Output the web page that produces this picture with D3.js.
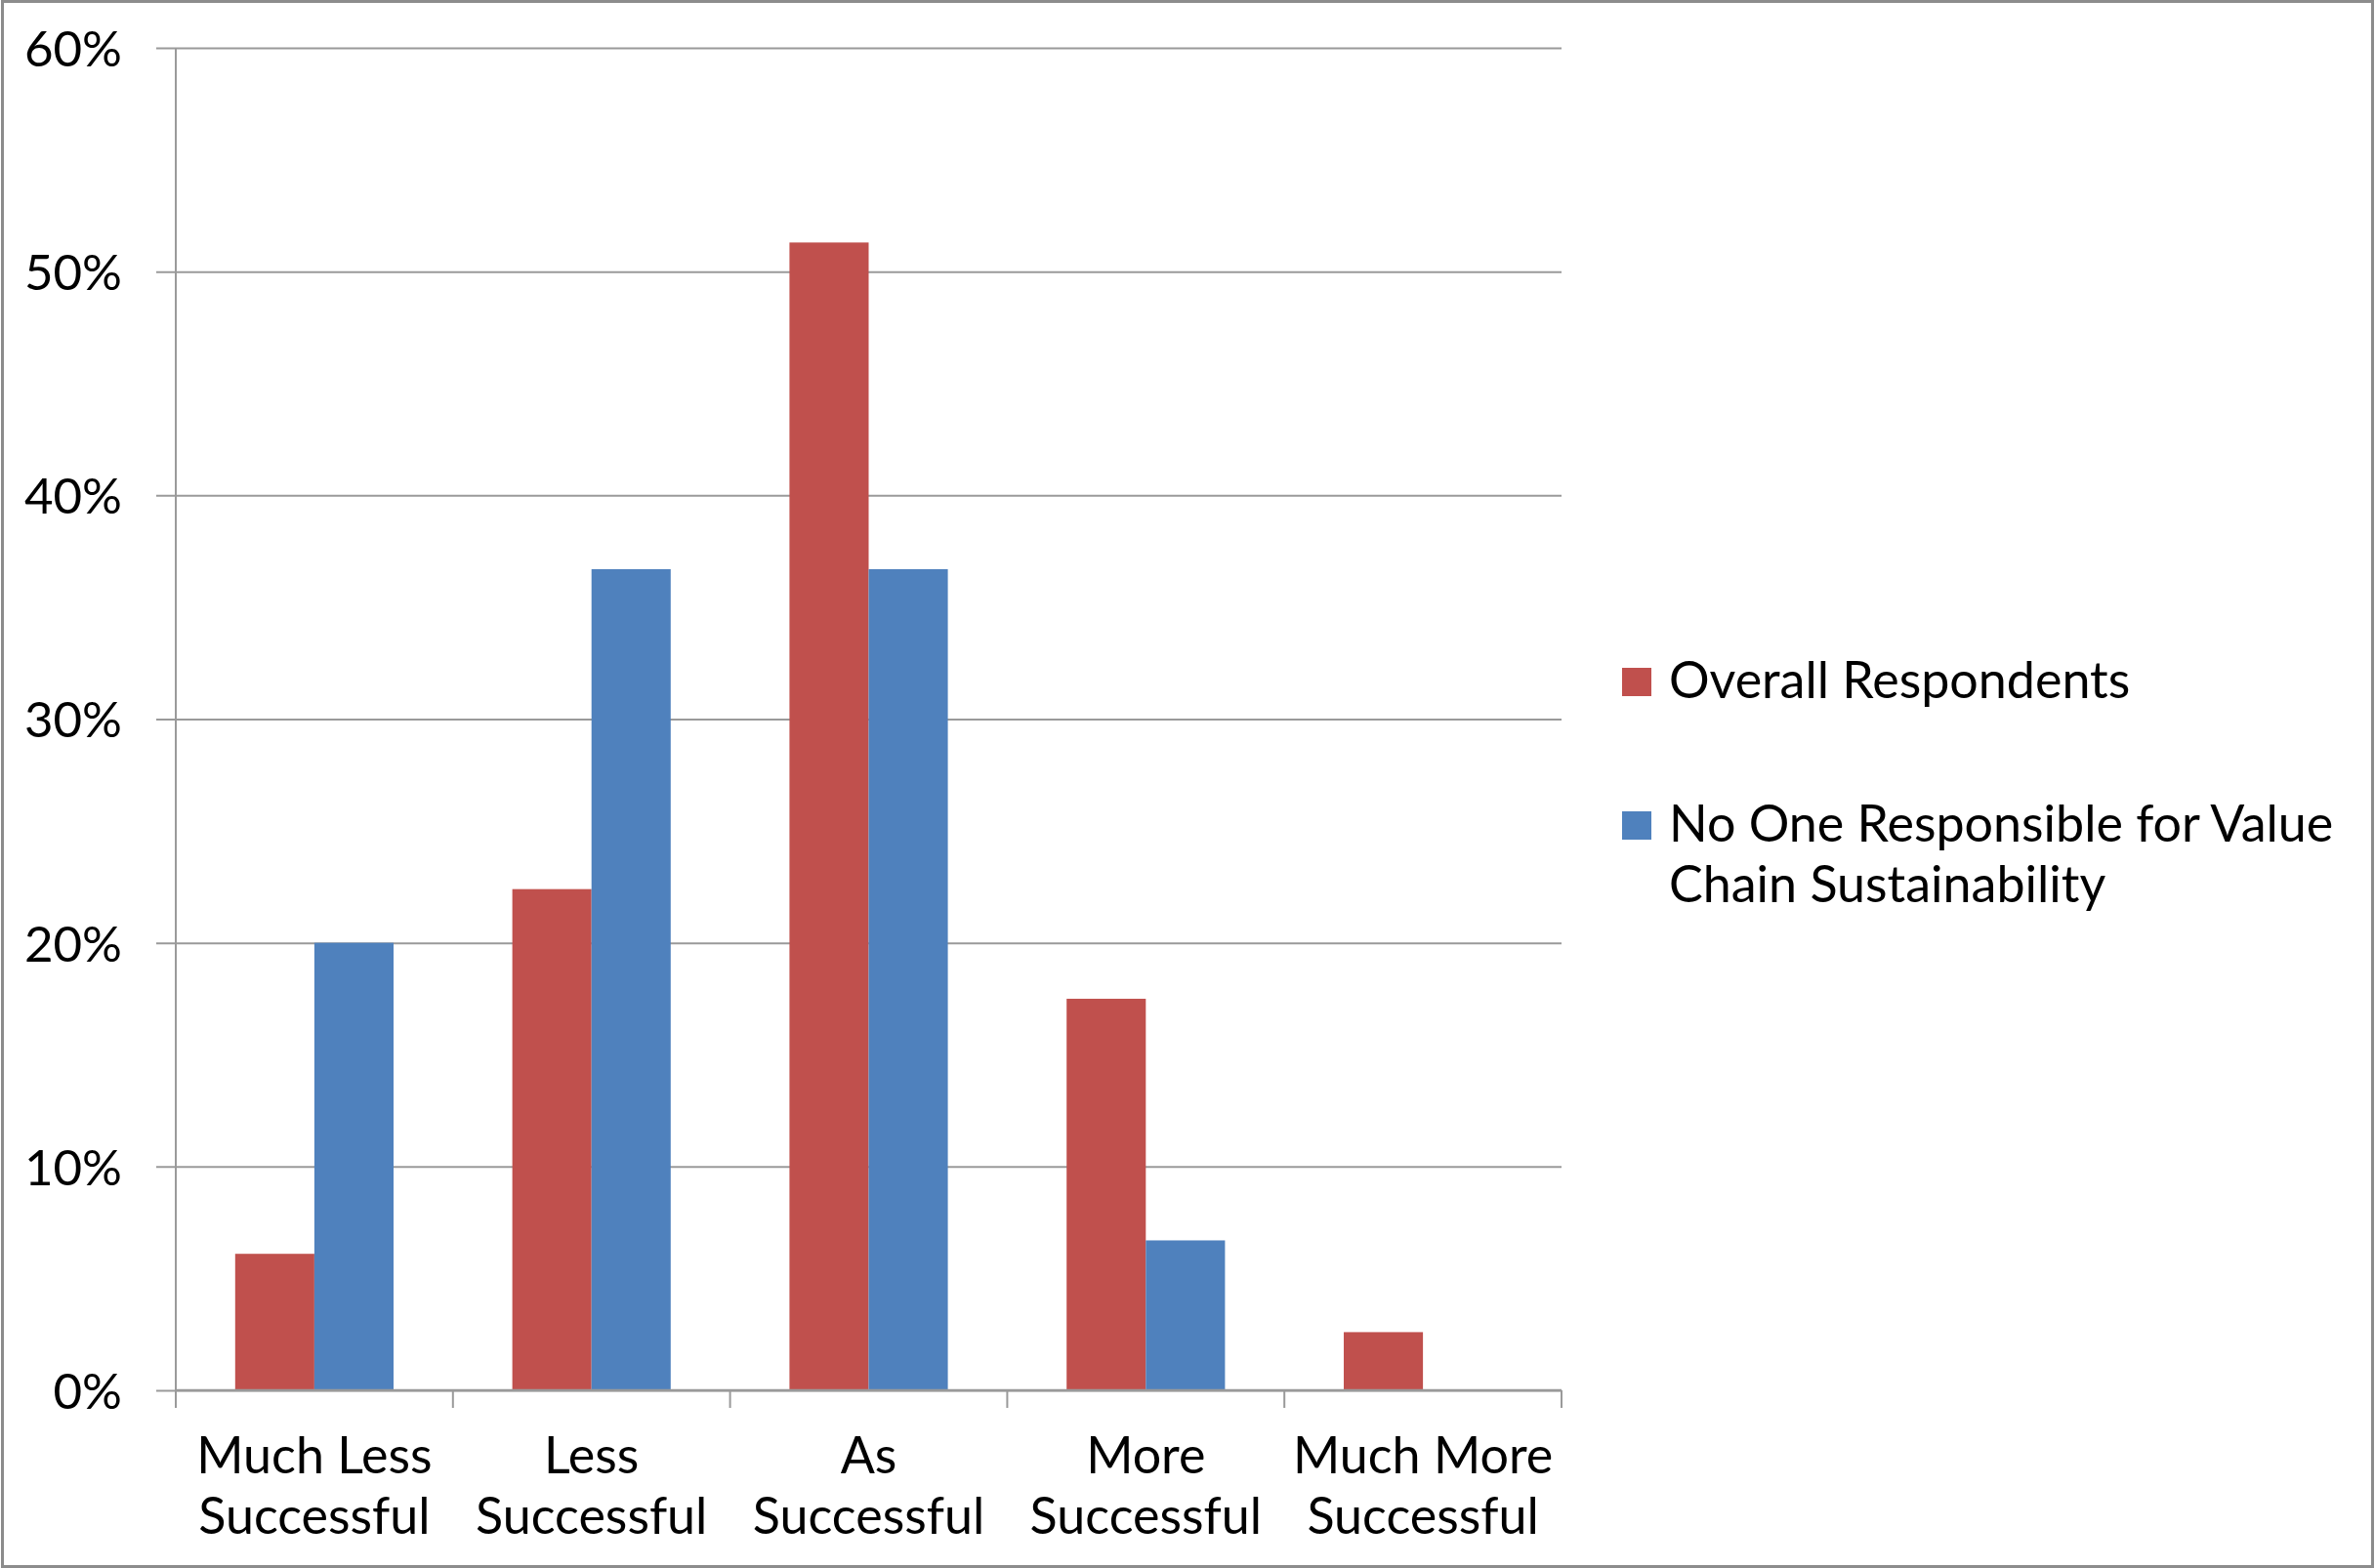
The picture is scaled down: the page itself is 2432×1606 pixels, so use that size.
<!DOCTYPE html>
<html><head><meta charset="utf-8">
<script src="https://cdn.jsdelivr.net/npm/d3@7"></script>
<style>html,body{margin:0;padding:0;background:#fff;}svg{display:block;}</style>
</head><body>
<script>
const categories = [["Much Less","Successful"],["Less","Successful"],["As","Successful"],["More","Successful"],["Much More","Successful"]];
const seriesNames = ["Overall Respondents","No One Responsible for Value Chain Sustainability"];
const overall = [0.061, 0.224, 0.513, 0.175, 0.026];
const noOne = [0.200, 0.367, 0.367, 0.067, 0.0];
const yTicks = [0, 0.1, 0.2, 0.3, 0.4, 0.5, 0.6];
const legendLines = [["Overall Respondents"],["No One Responsible for Value","Chain Sustainability"]];
const colors = ["#C0504D","#4F81BD"];

(function(){
const W = 2432, H = 1606;
const FONT = "Lato, 'Open Sans', sans-serif";
const svg = d3.select("body").append("svg").attr("width", W).attr("height", H);
svg.append("rect").attr("x",0).attr("y",0).attr("width",W).attr("height",H).attr("fill","#fff");
svg.append("rect").attr("x",2.5).attr("y",1.5).attr("width",W-5).attr("height",H-3)
  .attr("fill","none").attr("stroke","#8c8c8c").attr("stroke-width",3);

const pl = 180, pr = 1599, pt = 49, pb = 1424;
const x = d3.scaleBand().domain(d3.range(categories.length)).range([pl, pr]).paddingInner(0).paddingOuter(0);
const xs = d3.scaleBand().domain([0,1]).range([0, x.bandwidth()]).paddingInner(0).paddingOuter(0.75);
const y = d3.scaleLinear().domain([0, 0.6]).range([pb, pt]);

const yAxis = d3.axisLeft(y).tickValues(yTicks).tickSize(-(pr-pl)).tickSizeOuter(0).tickPadding(55)
  .tickFormat(d => Math.round(d*100) + "%");
const gy = svg.append("g").attr("transform", `translate(${pl},0)`).call(yAxis);
gy.select(".domain").remove();
gy.selectAll(".tick line").attr("stroke","#9a9a9a").attr("stroke-width",2).attr("x1",-20);
gy.selectAll(".tick text").attr("font-family",FONT).attr("font-size",51).attr("fill","#000").attr("dy","0.36em");
svg.append("line").attr("x1",pl).attr("x2",pl).attr("y1",pt).attr("y2",pb)
  .attr("stroke","#9a9a9a").attr("stroke-width",2);

const data = categories.map((c,i) => [overall[i], noOne[i]]);
const groups = svg.append("g").selectAll("g").data(data).join("g")
  .attr("transform", (d,i) => `translate(${x(i)},0)`);
groups.selectAll("rect").data(d => d.map((v,s)=>({v,s}))).join("rect")
  .attr("x", d => xs(d.s)).attr("width", xs.bandwidth())
  .attr("y", d => y(d.v)).attr("height", d => pb - y(d.v))
  .attr("fill", d => colors[d.s]);

const bounds = d3.range(categories.length+1).map(i => pl + i*x.step());
svg.append("line").attr("x1",pl).attr("x2",pr).attr("y1",pb).attr("y2",pb)
  .attr("stroke","#9a9a9a").attr("stroke-width",2.5);
svg.append("g").selectAll("line").data(bounds).join("line")
  .attr("x1",d=>d).attr("x2",d=>d).attr("y1",pb).attr("y2",pb+18)
  .attr("stroke","#9a9a9a").attr("stroke-width",2);
const xl = svg.append("g").selectAll("text").data(categories).join("text")
  .attr("x",(d,i)=>x(i)+x.bandwidth()/2).attr("y",1509)
  .attr("text-anchor","middle").attr("font-family",FONT).attr("font-size",52).attr("fill","#000");
xl.selectAll("tspan").data(d=>d).join("tspan")
  .attr("x",function(){return this.parentNode.getAttribute("x");})
  .attr("dy",(d,i)=>i===0?0:62).text(d=>d);

const legY = [715, 862];
const lg = svg.append("g");
legendLines.forEach((lines, s) => {
  lg.append("rect").attr("x",1661).attr("y",legY[s]-31).attr("width",30).attr("height",29).attr("fill",colors[s]);
  const t = lg.append("text").attr("x",1709).attr("y",legY[s]).attr("font-family",FONT).attr("font-size",52).attr("fill","#000");
  t.selectAll("tspan").data(lines).join("tspan").attr("x",1709).attr("dy",(d,i)=>i===0?0:62).text(d=>d);
});
})();
</script>
</body></html>
